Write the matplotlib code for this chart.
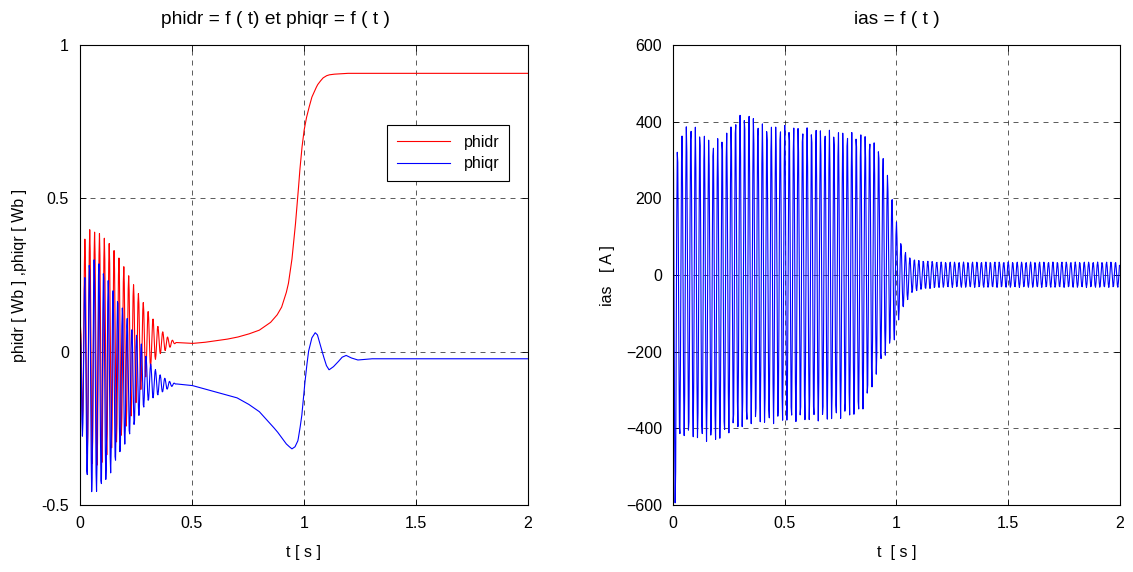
import numpy as np
import matplotlib
matplotlib.use('Agg')
import matplotlib.pyplot as plt

plt.rcParams['font.family'] = ['Liberation Sans', 'DejaVu Sans']
plt.rcParams['font.size'] = 11.5

# --- flux rotorique : enveloppes de l'oscillation du demarrage
osc_t = [0.0, 0.008, 0.022, 0.045, 0.065, 0.09, 0.134, 0.179, 0.223, 0.268, 0.305, 0.35, 0.394, 0.43]
phidr_haut = [0.05, 0.22, 0.37, 0.40, 0.39, 0.385, 0.35, 0.30, 0.24, 0.18, 0.13, 0.08, 0.046, 0.03]
phidr_bas = [0.0, -0.20, -0.31, -0.36, -0.37, -0.37, -0.32, -0.28, -0.22, -0.13, -0.06, -0.01, 0.01, 0.03]
phiqr_haut = [0.04, 0.15, 0.25, 0.30, 0.30, 0.29, 0.22, 0.16, 0.09, 0.036, -0.03, -0.07, -0.095, -0.105]
phiqr_bas = [0.04, -0.25, -0.38, -0.46, -0.46, -0.45, -0.40, -0.33, -0.27, -0.20, -0.16, -0.14, -0.12, -0.105]
f_flux = 46.0

# --- flux rotorique : partie lisse apres le transitoire
lisse_t = [0.43, 0.5, 0.55, 0.6, 0.65, 0.7, 0.75, 0.8, 0.85, 0.88, 0.9, 0.92, 0.93, 0.946, 0.96,
           0.973, 0.98, 0.99, 1.0, 1.01, 1.02, 1.035, 1.05, 1.06, 1.07, 1.085, 1.1, 1.112, 1.13,
           1.15, 1.17, 1.188, 1.21, 1.24, 1.3, 2.0]
phidr_lisse = [0.03, 0.027, 0.03, 0.035, 0.04, 0.047, 0.057, 0.07, 0.095, 0.12, 0.145, 0.19, 0.22, 0.30, 0.40,
               0.51, 0.58, 0.66, 0.72, 0.76, 0.79, 0.83, 0.855, 0.87, 0.88, 0.893, 0.90, 0.903, 0.905,
               0.906, 0.907, 0.908, 0.908, 0.908, 0.908, 0.908]
phiqr_lisse = [-0.105, -0.11, -0.12, -0.13, -0.14, -0.15, -0.17, -0.195, -0.235, -0.26, -0.28, -0.30, -0.307, -0.317, -0.31,
               -0.29, -0.26, -0.21, -0.13, -0.06, 0.0, 0.045, 0.062, 0.055, 0.03, -0.01, -0.045, -0.059, -0.05,
               -0.035, -0.018, -0.012, -0.02, -0.027, -0.023, -0.023]

# --- courant statorique ias : enveloppes
ias_t = [0.0, 0.012, 0.02, 0.039, 0.057, 0.079, 0.12, 0.158, 0.18, 0.21, 0.247, 0.277, 0.315, 0.352,
         0.389, 0.43, 0.49, 0.70, 0.80, 0.84, 0.86, 0.88, 0.90, 0.92, 0.94, 0.957, 0.971, 0.98, 0.993,
         1.0, 1.015, 1.04, 1.06, 1.1, 1.2, 2.0]
ias_haut = [400, 400, 330, 365, 391, 394, 378, 357, 348, 360, 378, 409, 422, 417,
            396, 390, 391, 378, 372, 370, 365, 357, 345, 334, 308, 269, 235, 209, 160,
            138, 91, 60, 45, 38, 34, 34]
ias_bas = [-600, -600, -450, -417, -420, -425, -430, -435, -435, -430, -413, -400, -400, -387,
           -387, -390, -383, -380, -368, -365, -334, -310, -282, -240, -222, -200, -185, -175, -170,
           -150, -100, -78, -50, -38, -32, -32]
f_ias = 50.0
fe_ias = 8 * (f_ias + 2.5)  # pas d'echantillonnage de la simulation


def signal_osc(t, tk, haut, bas, f):
    h = np.interp(t, tk, haut)
    b = np.interp(t, tk, bas)
    return (h + b) / 2 + (h - b) / 2 * np.cos(2 * np.pi * f * t)


# courbes du flux
t1 = np.arange(0, 0.43, 1 / (f_flux * 10))
t2 = np.linspace(0.43, 2.0, 1500)
t_flux = np.concatenate([t1, t2])
phidr = np.concatenate([signal_osc(t1, osc_t, phidr_haut, phidr_bas, f_flux),
                        np.interp(t2, lisse_t, phidr_lisse)])
phiqr = np.concatenate([signal_osc(t1, osc_t, phiqr_haut, phiqr_bas, f_flux + 1.5),
                        np.interp(t2, lisse_t, phiqr_lisse)])

# courant
t_ias = np.arange(0, 2.0, 1 / fe_ias)
ias = signal_osc(t_ias, ias_t, ias_haut, ias_bas, f_ias)

fig = plt.figure(figsize=(11.33, 5.72), dpi=100)
ax1 = fig.add_axes([0.0706, 0.1171, 0.3954, 0.804])
ax2 = fig.add_axes([0.594, 0.1171, 0.3945, 0.804])

ax1.plot(t_flux, phidr, color='red', lw=0.8, label='phidr')
ax1.plot(t_flux, phiqr, color='blue', lw=0.8, label='phiqr')
ax1.set_xlim(0, 2)
ax1.set_ylim(-0.5, 1)
ax1.set_xticks([0, 0.5, 1, 1.5, 2])
ax1.set_xticklabels(['0', '0.5', '1', '1.5', '2'])
ax1.set_yticks([-0.5, 0, 0.5, 1])
ax1.set_yticklabels(['-0.5', '0', '0.5', '1'])
ax1.set_title('phidr = f ( t) et phiqr = f ( t )', pad=15, x=0.436)
ax1.set_xlabel('t [ s ]', labelpad=10)
ax1.set_ylabel('phidr [ Wb ] ,phiqr [ Wb ]', labelpad=10)
leg = ax1.legend(loc='upper right', bbox_to_anchor=(0.958, 0.826), borderaxespad=0,
                 fancybox=False, edgecolor='black', framealpha=1, handlelength=3.3,
                 handletextpad=0.9, borderpad=0.6, labelspacing=0.4)
leg.get_frame().set_linewidth(0.8)

ax2.plot(t_ias, ias, color='blue', lw=0.8)
ax2.set_xlim(0, 2)
ax2.set_ylim(-600, 600)
ax2.set_xticks([0, 0.5, 1, 1.5, 2])
ax2.set_xticklabels(['0', '0.5', '1', '1.5', '2'])
ax2.set_yticks(np.arange(-600, 601, 200))
ax2.set_title('ias = f ( t )', pad=15)
ax2.set_xlabel('t  [ s ]', labelpad=10)
ax2.set_ylabel('ias   [ A ]', labelpad=8)

for ax in (ax1, ax2):
    ax.grid(True, color='black', linestyle=(0, (6, 6)), linewidth=0.6, alpha=0.75)
    ax.tick_params(direction='in', top=True, right=True, length=4, width=0.6, pad=8)
    for s in ax.spines.values():
        s.set_linewidth(0.8)

fig.savefig('out.png', dpi=100)
